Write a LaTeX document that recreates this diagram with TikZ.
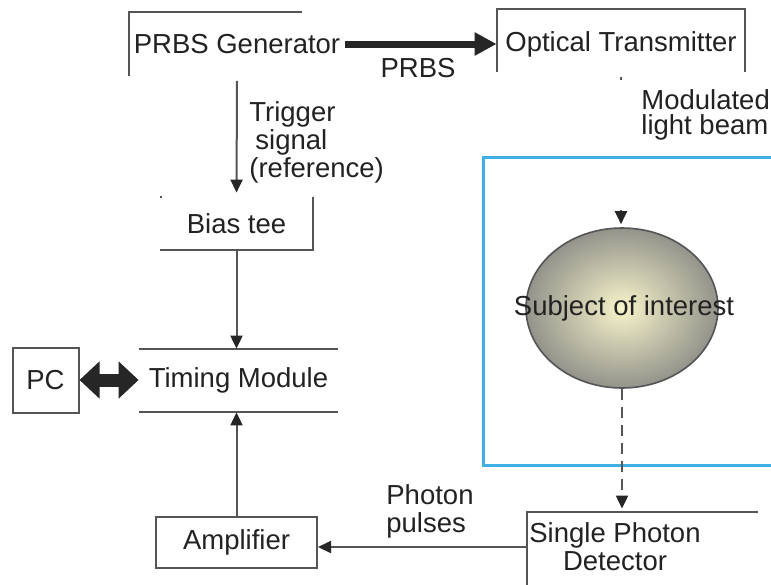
\documentclass[tikz,border=0pt]{standalone}
\usepackage{fontspec}
\setmainfont{Liberation Sans}
\usetikzlibrary{arrows.meta,shapes.geometric}
\definecolor{ln}{HTML}{555555}
\definecolor{tx}{HTML}{222222}
\definecolor{bl}{HTML}{41AEE4}
\definecolor{shin}{HTML}{F7F4CA}
\definecolor{shout}{HTML}{93938B}
\tikzset{
  lbl/.style={font=\fontsize{13.75}{14}\selectfont,text=tx,inner sep=0pt,align=center},
  frame/.style={draw=ln,line width=1pt},
  conn/.style={draw=ln,line width=1pt,-{Triangle[length=6.5pt,width=6pt,color=black!85]}},
  fat/.style={draw=black!85,line width=3.5pt,-{Triangle[length=11pt,width=11pt]}},
  fatboth/.style={draw=black!85,line width=6.5pt,{Triangle[length=10pt,width=18pt]}-{Triangle[length=10pt,width=18pt]}}
}
\begin{document}
\begin{tikzpicture}[x=0.5pt,y=-0.5pt]
\useasboundingbox (0,0) rectangle (771,584);
\fill[white] (0,0) rectangle (771,584);

% top row
\node[lbl,minimum width=108pt,minimum height=31.5pt] (prbs) at (237,44) {PRBS Generator};
\draw[frame] (prbs.south west) -- (prbs.north west) -- ++(173,0);
\node[lbl,minimum width=124pt,minimum height=35pt] (opt) at (621,44) {Optical Transmitter};
\draw[frame] ([yshift=3.5pt]opt.south west) -- (opt.north west) -- (opt.north east) -- ([yshift=3.5pt]opt.south east);
\draw[fat] (prbs.east) -- (prbs.east -| opt.west);
\node[lbl] (prbslbl) at (418,68) {PRBS};
\draw[frame] ([yshift=1pt]opt.south) -- ++(0,3);
\node[lbl,align=left,anchor=north west,font=\fontsize{13.75}{12.5}\selectfont] (mod) at (641,89) {Modulated\\light beam};

% left column
\node[lbl,minimum width=76.5pt,minimum height=26.5pt] (bias) at (236.5,223.5) {Bias tee};
\draw[frame] (bias.north east) -- (bias.south east) -- (bias.south west);
\draw[frame] (bias.north west) -- ++(2,0);
\draw[conn,shorten >=2pt] ([yshift=-2.5pt]prbs.south) -- (bias.north);
\node[lbl,align=left,anchor=north west] (trig) at (249,101) {Trigger\\\hspace{3pt}signal\\(reference)};

\node[lbl,minimum width=99.5pt,minimum height=31.5pt] (tim) at (238.5,380.5) {Timing Module};
\draw[frame] (tim.north west) -- (tim.north east);
\draw[frame] (tim.south west) -- (tim.south east);
\draw[conn] (bias.south) -- (bias.south |- tim.north);

\node[lbl,frame,minimum width=33pt,minimum height=32.5pt] (pc) at (45.5,380) {PC};
\draw[fatboth] (pc.east) -- (pc.east -| tim.west);

\node[lbl,frame,minimum width=80.5pt,minimum height=25.5pt] (amp) at (236.5,542.5) {Amplifier};
\draw[conn] (amp.north) -- (amp.north |- tim.south);

% right side
\draw[bl,line width=1.5pt] (800,157) -- (483,157) -- (483,465) -- (800,465);
\node[ellipse,draw=ln,line width=0.8pt,minimum width=96pt,minimum height=80pt,inner sep=0pt,inner color=shin,outer color=shout] (ell) at (622,308) {};
\node[lbl] (subj) at (624,308) {Subject of interest};
\coordinate (beam) at (621,210);
\draw[conn,shorten >=1.5pt] (beam) -- (beam |- ell.north);

\node[lbl,minimum width=88pt,minimum height=35pt] (det) at (615,547) {Single Photon\\Detector};
\draw[frame] ([yshift=-2pt]det.south west) -- (det.north west) -- ++(231,0);
\draw[conn,dash pattern=on 5.5pt off 3.5pt,shorten >=1.5pt] (ell.south) -- (ell.south |- det.north);
\draw[conn] (det.west) -- (det.west -| amp.east);
\node[lbl,align=left,anchor=north west] (pp) at (386,484) {Photon\\pulses};
\end{tikzpicture}
\end{document}
